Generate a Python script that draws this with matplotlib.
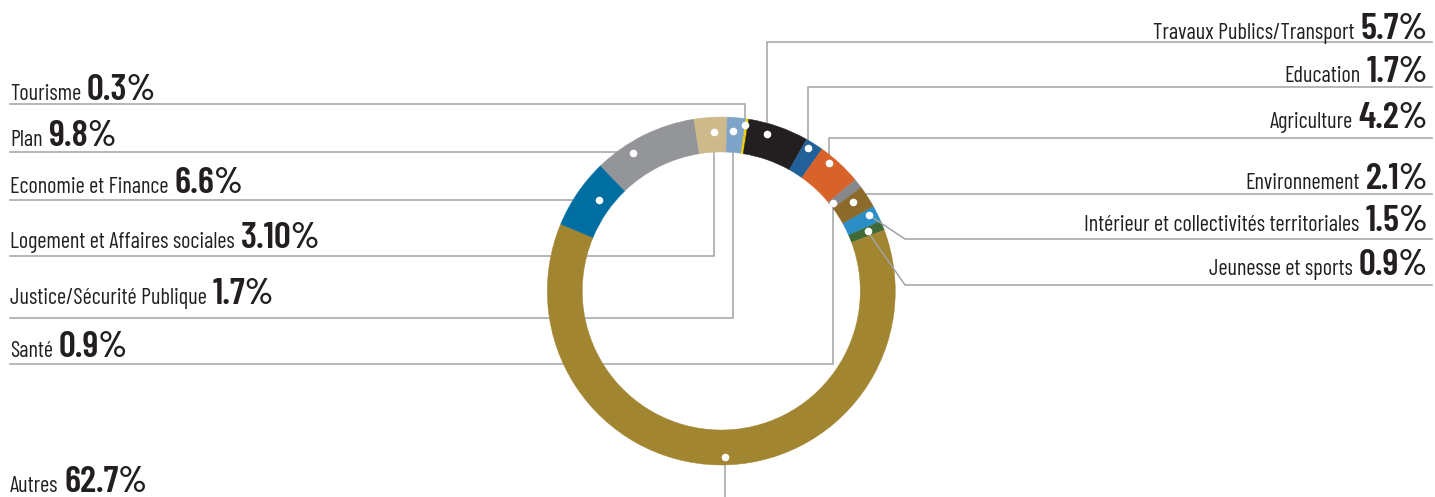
import matplotlib
matplotlib.use("Agg")
import matplotlib.pyplot as plt
from matplotlib import font_manager as fm
import numpy as np

# ---------------- data ----------------
categories = ["Tourisme", "Travaux Publics/Transport", "Education", "Agriculture", "Santé",
              "Environnement", "Intérieur et collectivités territoriales", "Jeunesse et sports",
              "Autres", "Economie et Finance", "Plan", "Logement et Affaires sociales",
              "Justice/Sécurité Publique"]
values = [0.3, 5.7, 1.7, 4.2, 0.9, 2.1, 1.5, 0.9, 62.7, 6.6, 9.8, 3.1, 1.7]
value_labels = ["0.3%", "5.7%", "1.7%", "4.2%", "0.9%", "2.1%", "1.5%", "0.9%",
                "62.7%", "6.6%", "9.8%", "3.10%", "1.7%"]
colors = ["#f5d000", "#231f20", "#22609a", "#d9622b", "#86878a", "#8c6a2a", "#2a8dc5",
          "#3f6a37", "#a28530", "#006ea0", "#939598", "#cdb98a", "#7ea5c9"]

# ---------------- layout (pixels, y measured from top) ----------------
W, H = 1435, 497
CX, CY = 721.3, 291.0
R_OUT, R_IN = 174.0, 139.0
side = ["L", "R", "R", "R", "L", "R", "R", "R", "L", "L", "L", "L", "L"]
text_base = [100, 39, 82, 128, 357, 189, 231, 275, 492, 193, 146, 248, 304]
line_y = [104, 42, 87, 138, 364, 194, 239, 285, None, 200, 152, 256, 318]
leader = ["ortho", "ortho", "ortho", "ortho", "ortho", "ortho", "diag", "diag",
          "down", "ortho", "ortho", "ortho", "ortho"]
dot_r = [168, 163, 167, 167, 142, 159, 166, 158, 166, 152, 164, 159, 160]
dot_frac = [0.0, 0.35, 0.3, 0.31, 0.46, 0.32, 0.34, 0.46, 0.49, 0.6, 0.33, 0.59, 0.38]
LEFT_X, RIGHT_X, KINK_X = 10, 1428, 905
LINE_C = "#9fa2a6"
TEXT_C = "#231f20"

avail = {f.name for f in fm.fontManager.ttflist}
FONT = "DejaVu Sans"
for fam in ["Barlow Condensed", "Barlow Semi Condensed", "Roboto Condensed", "Archivo Narrow",
            "Asap Condensed", "Liberation Sans Narrow", "DejaVu Sans"]:
    if fam in avail:
        FONT = fam
        break


def Y(p):
    return H - p


fig = plt.figure(figsize=(W / 100, H / 100), dpi=100)
ax = fig.add_axes([0, 0, 1, 1])
wedges, _ = ax.pie(values, colors=colors, startangle=82, counterclock=False,
                   radius=R_OUT, center=(CX, Y(CY)), frame=True,
                   wedgeprops=dict(width=R_OUT - R_IN, linewidth=0.3, zorder=2))
for w in wedges:
    w.set_edgecolor(w.get_facecolor())
ax.set_xlim(0, W)
ax.set_ylim(0, H)
ax.set_aspect("equal")
ax.axis("off")

renderer = fig.canvas.get_renderer()

# calibrate font sizes so the condensed text widths match the reference
name_targets = {"Travaux Publics/Transport": 204, "Intérieur et collectivités territoriales": 278,
                "Logement et Affaires sociales": 226, "Economie et Finance": 154,
                "Justice/Sécurité Publique": 193}
pct_targets = {"5.7%": 55, "3.10%": 70, "62.7%": 72, "9.8%": 61, "6.6%": 62}


def width(s, size, weight):
    t = ax.text(0, 0, s, fontsize=size, family=FONT, fontweight=weight)
    w = t.get_window_extent(renderer).width
    t.remove()
    return w


NAME_W, PCT_W = "normal", "semibold"
ms = sum(width(s, 10, NAME_W) for s in name_targets)
NAME_SIZE = 10 * sum(name_targets.values()) / ms
ps = sum(width(s, 10, PCT_W) for s in pct_targets)
PCT_SIZE = 1.15 * 10 * sum(pct_targets.values()) / ps
GAP = 6

dots_x, dots_y = [], []
for i, w in enumerate(wedges):
    ang = np.deg2rad(w.theta2 - dot_frac[i] * (w.theta2 - w.theta1))
    dx = CX + dot_r[i] * np.cos(ang)
    dy = Y(CY) + dot_r[i] * np.sin(ang)
    dots_x.append(dx)
    dots_y.append(dy)

    # labels
    yb = Y(text_base[i])
    if side[i] == "L":
        tn = ax.text(LEFT_X, yb, categories[i], fontsize=NAME_SIZE, family=FONT,
                     fontweight=NAME_W, color=TEXT_C, ha="left", va="baseline")
        x1 = tn.get_window_extent(renderer).x1
        ax.text(x1 + GAP, yb, value_labels[i], fontsize=PCT_SIZE, family=FONT,
                fontweight=PCT_W, color=TEXT_C, ha="left", va="baseline")
    else:
        tp = ax.text(RIGHT_X, yb, value_labels[i], fontsize=PCT_SIZE, family=FONT,
                     fontweight=PCT_W, color=TEXT_C, ha="right", va="baseline")
        x0 = tp.get_window_extent(renderer).x0
        ax.text(x0 - GAP, yb, categories[i], fontsize=NAME_SIZE, family=FONT,
                fontweight=NAME_W, color=TEXT_C, ha="right", va="baseline")

    # leader lines
    if leader[i] == "down":
        ax.plot([dx, dx], [dy, 0], color=LINE_C, lw=1.1, zorder=1)
        continue
    ly = Y(line_y[i])
    x_edge = LEFT_X if side[i] == "L" else RIGHT_X + 4
    if leader[i] == "ortho":
        ax.plot([x_edge, dx, dx], [ly, ly, dy], color=LINE_C, lw=1.1, zorder=1,
                solid_joinstyle="miter")
    else:
        ax.plot([x_edge, KINK_X, dx], [ly, ly, dy], color=LINE_C, lw=1.1, zorder=3,
                solid_joinstyle="miter")

ax.scatter(dots_x, dots_y, s=30, c="white", linewidths=0, zorder=5)

fig.savefig("out.png", dpi=100)
